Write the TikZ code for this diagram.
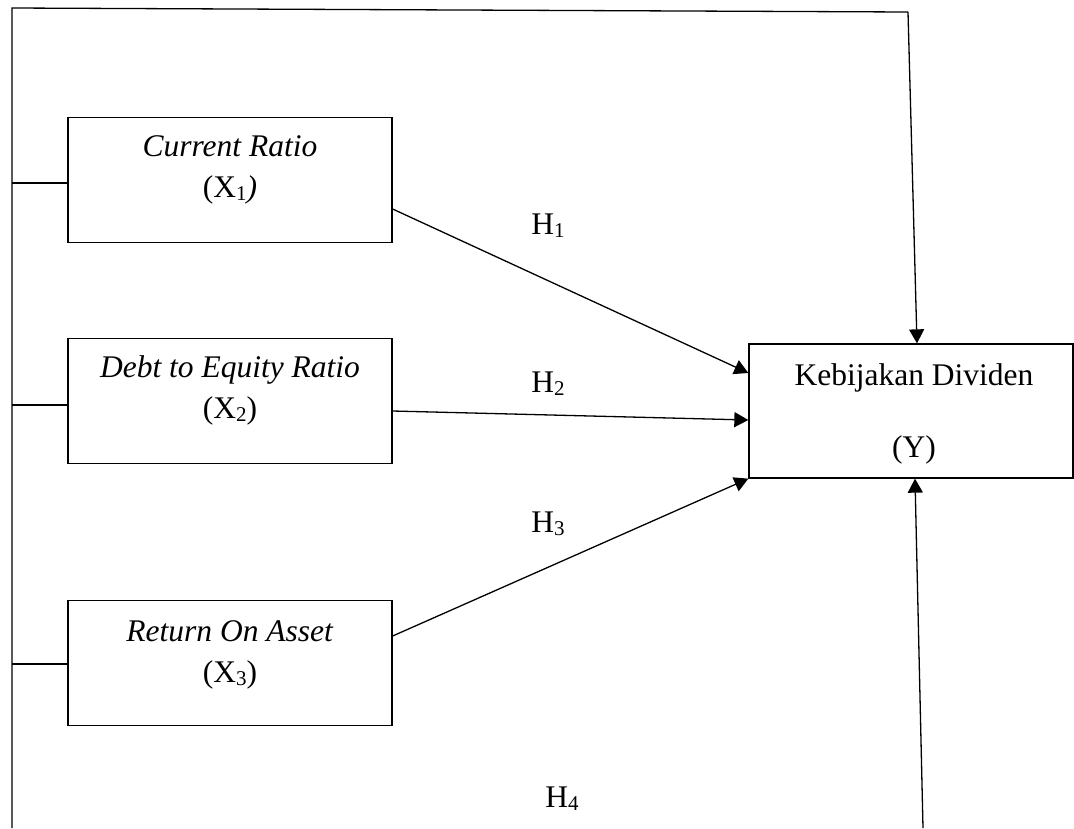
\documentclass[tikz,border=0pt]{standalone}
\usepackage{fontspec}
\setmainfont{Liberation Serif}
\usetikzlibrary{arrows.meta,positioning}
\newcommand{\xsub}[1]{\raisebox{-0.25ex}{\fontsize{21pt}{21pt}\selectfont #1}}
\tikzset{
    varbox/.style={draw, line width=1.3pt, minimum width=324pt,
        minimum height=125pt, inner sep=0pt},
    vartext/.style={inner sep=0pt, anchor=base, align=center,
        font=\fontsize{31.5pt}{41pt}\selectfont},
    hlabel/.style={inner sep=0pt, anchor=base,
        font=\fontsize{31.5pt}{41pt}\selectfont},
    wire/.style={line width=1.3pt},
    link/.style={line width=1.3pt, -{Triangle[length=14pt,width=15pt]}}
}

\begin{document}
\begin{tikzpicture}[x=1pt, y=-1pt]
    % Init
    \useasboundingbox (0,0) rectangle (1074,828);
    % 1. def boxes
    \node[varbox] (cr) at (230,180) {};
    \node[varbox] (der) at (230,401) {};
    \node[varbox] (roa) at (230,663) {};
    \node[varbox, minimum height=134pt] (kd) at (911,411) {};
    % 2. texts in boxes (base = last line)
    \node[vartext] (crt) at (230,197) {\textit{Current Ratio}\\(X\xsub{1}\textit{)}};
    \node[vartext] (dert) at (230,418) {\textit{Debt to Equity Ratio}\\(X\xsub{2})};
    \node[vartext] (roat) at (230,682) {\textit{Return On Asset}\\(X\xsub{3})};
    \node[vartext] (kdt) at (914,457) {Kebijakan Dividen\\[31pt](Y)};
    % 3. frame round the left side
    \coordinate (tl) at (12,8);
    \coordinate (tr) at (908,12);
    \coordinate (bl) at (12,828);
    \coordinate (br) at (923,828);
    \coordinate (l1) at (12,183);
    \coordinate (l2) at (12,405);
    \coordinate (l3) at (12,664);
    \draw[wire] (bl) -- (tl) -- (tr);
    \draw[wire] (l1) -- (l1 -| cr.west);
    \draw[wire] (l2) -- (l2 -| der.west);
    \draw[wire] (l3) -- (l3 -| roa.west);
    % 4. arrows
    \draw[link] (tr) -- ([xshift=6pt]kd.north);
    \draw[link] (br) -- ([xshift=4pt]kd.south);
    \draw[link] ([yshift=-29pt]cr.east) -- ([yshift=38pt]kd.west);
    \draw[link] ([yshift=-10pt]der.east) -- ([yshift=-9pt]kd.west);
    \draw[link] ([yshift=27pt]roa.east) -- (kd.south west);
    % 5. hypothesis labels
    \node[hlabel] (h1) at (548,234) {H\xsub{1}};
    \node[hlabel] (h2) at (548,392) {H\xsub{2}};
    \node[hlabel] (h3) at (548,532) {H\xsub{3}};
    \node[hlabel] (h4) at (562,807) {H\xsub{4}};
\end{tikzpicture}
\end{document}
